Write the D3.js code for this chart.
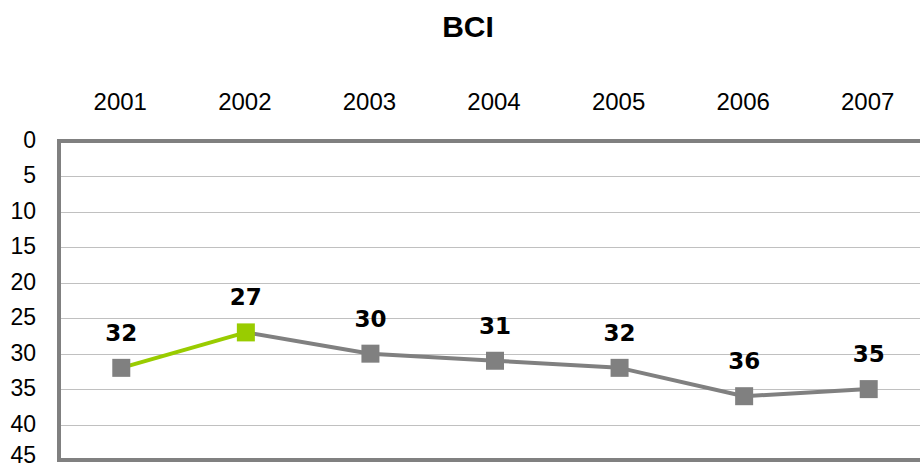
<!DOCTYPE html>
<html><head><meta charset="utf-8">
<script src="https://cdn.jsdelivr.net/npm/d3@7"></script>
<style>html,body{margin:0;padding:0;background:#fff;overflow:hidden}</style>
</head><body>
<svg id="c" width="920" height="469"></svg>
<script>
const title = "BCI";
const years = ["2001","2002","2003","2004","2005","2006","2007"];
const values = [32, 27, 30, 31, 32, 36, 35];
const yTicks = [0,5,10,15,20,25,30,35,40,45];
const highlightIndex = 1; // 2002 highlighted in green

const svg = d3.select("#c");
const mLeft = 59, mRight = 931, mTop = 141, mBottom = 460;
const x = d3.scaleBand().domain(years).range([mLeft, mRight]);
const y = d3.scaleLinear().domain([0,45]).range([mTop, mBottom]);
const gray = "#808080", green = "#99cc00";

// gridlines
svg.append("g").selectAll("line").data(yTicks.filter(t=>t>0 && t<45)).join("line")
  .attr("x1", mLeft).attr("x2", 920)
  .attr("y1", d=>Math.round(y(d))+0.5).attr("y2", d=>Math.round(y(d))+0.5)
  .attr("stroke", "#c0c0c0").attr("stroke-width", 1);

// frame (left, top, bottom)
svg.append("path")
  .attr("d", `M920,${mTop} H${mLeft} V${mBottom} H920`)
  .attr("fill","none").attr("stroke", gray).attr("stroke-width", 4);

// y labels
svg.append("g").selectAll("text").data(yTicks).join("text")
  .attr("x", 36).attr("y", d=>Math.min(y(d)+7, 463))
  .attr("text-anchor","end")
  .attr("font-family","Liberation Sans, Arial, sans-serif").attr("font-size", 23)
  .attr("fill","#000").text(d=>d);

// x labels (top)
svg.append("g").selectAll("text").data(years).join("text")
  .attr("x", d=>x(d)+x.bandwidth()/2 - 1).attr("y", 110)
  .attr("text-anchor","middle")
  .attr("font-family","Liberation Sans, Arial, sans-serif").attr("font-size", 24)
  .attr("fill","#000").text(d=>d);

// title
svg.append("text").attr("x", 468).attr("y", 37).attr("text-anchor","middle")
  .attr("font-family","Liberation Sans, Arial, sans-serif").attr("font-weight","bold")
  .attr("font-size", 30).attr("fill","#000").text(title);

const pts = years.map((yr,i)=>({yr, v:values[i], i}));
const cx = d=>x(d.yr)+x.bandwidth()/2;
// line segments
for (let i=0;i<pts.length-1;i++){
  const a=pts[i], b=pts[i+1];
  svg.append("line").attr("x1",cx(a)).attr("y1",y(a.v)).attr("x2",cx(b)).attr("y2",y(b.v))
    .attr("stroke", (i+1)===highlightIndex ? green : gray).attr("stroke-width", 4);
}
// markers
const ms = 18;
svg.append("g").selectAll("rect").data(pts).join("rect")
  .attr("x", d=>cx(d)-ms/2).attr("y", d=>y(d.v)-ms/2)
  .attr("width", ms).attr("height", ms)
  .attr("fill", d=>d.i===highlightIndex ? green : gray);

// value labels
svg.append("g").selectAll("text").data(pts).join("text")
  .attr("x", d=>cx(d)).attr("y", d=>y(d.v)-27)
  .attr("text-anchor","middle")
  .attr("font-family","DejaVu Sans, Verdana, sans-serif").attr("font-weight","bold")
  .attr("font-size", 23).attr("fill","#000").text(d=>d.v);
</script>
</body></html>
